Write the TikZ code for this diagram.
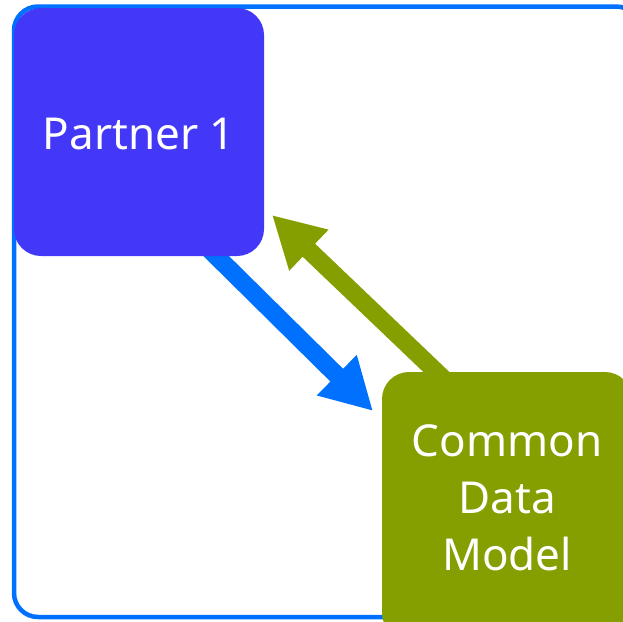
\documentclass[tikz,border=0pt]{standalone}
\usepackage{fontspec}
\setmainfont{Noto Sans}
\usetikzlibrary{arrows.meta}
\definecolor{frameblue}{RGB}{0,112,255}
\definecolor{partnerblue}{RGB}{68,56,248}
\definecolor{olive}{RGB}{133,158,0}
\tikzset{
  box/.style={rounded corners=27pt, draw=none},
  flow/.style={line width=18pt, -{Triangle[length=51pt,width=53pt]}},
}
\begin{document}
\begin{tikzpicture}[x=1pt,y=-1pt]
\useasboundingbox (0,0) rectangle (623,621);
\draw[frameblue, line width=4.5pt, rounded corners=24pt] (14,6.5) rectangle (640,617);
\coordinate (b1) at (205,245);
\coordinate (b2) at (373,411);
\coordinate (g1) at (450,385);
\coordinate (g2) at (272,215);
\draw[flow, frameblue] (b1) -- (b2);
\draw[flow, olive] (g1) -- (g2);
\fill[box, partnerblue] (14,8) rectangle (264,256);
\node[text=white, font=\fontsize{44}{52}\selectfont, inner sep=0pt] (p) at (139,134) {Partner 1};
\fill[box, olive] (382,372) rectangle (632,640);
\node[text=white, font=\fontsize{44}{57}\selectfont, align=center, inner sep=0pt] (c) at (507,498) {Common\\Data\\Model};
\end{tikzpicture}
\end{document}
